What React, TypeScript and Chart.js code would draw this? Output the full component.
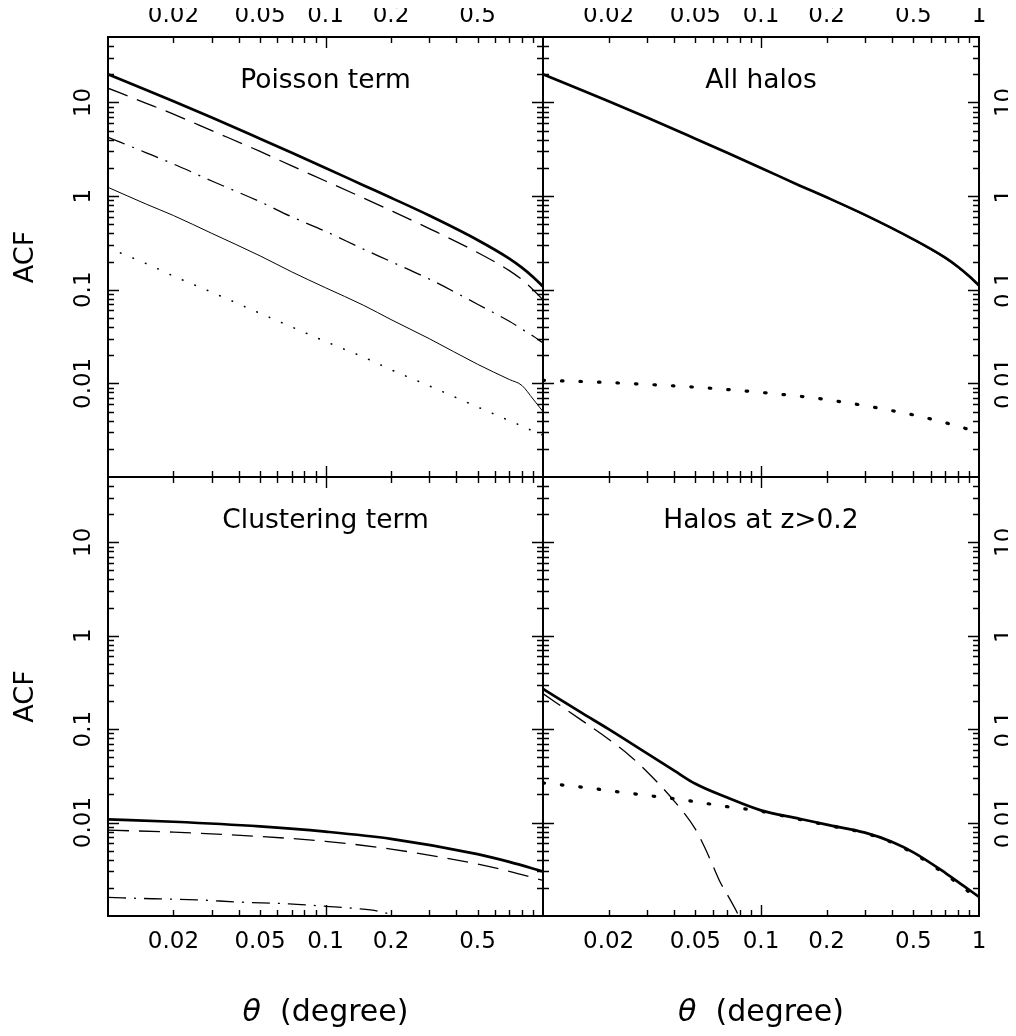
import React, { useEffect, useRef } from "react";
import { Chart, registerables } from "chart.js";
Chart.register(...registerables);

// ---------------- data ----------------
const thetaPoisson = [0.01, 0.015, 0.02, 0.03, 0.05, 0.07, 0.1, 0.15, 0.2, 0.3, 0.5, 0.7, 0.8, 0.9, 1];
const poissonTotal = [20, 13.6, 10.3, 6.9, 4.1, 2.9, 2.0, 1.3, 0.96, 0.62, 0.34, 0.215, 0.172, 0.137, 0.108];
const poissonDashed = [14.2, 9.8, 7.5, 5.0, 3.0, 2.1, 1.45, 0.95, 0.7, 0.45, 0.25, 0.16, 0.128, 0.1, 0.078];
const poissonDashDot = [4.25, 2.9, 2.2, 1.45, 0.87, 0.6, 0.42, 0.27, 0.2, 0.13, 0.07, 0.046, 0.038, 0.032, 0.027];
const poissonThin = [1.24, 0.82, 0.62, 0.4, 0.23, 0.155, 0.105, 0.068, 0.048, 0.03, 0.016, 0.011, 0.0095, 0.0068, 0.005];
const poissonDotted = [0.28, 0.19, 0.14, 0.094, 0.056, 0.04, 0.028, 0.019, 0.014, 0.0094, 0.0056, 0.004, 0.0035, 0.0031, 0.0028];

const allHalosTotal = [20, 13.6, 10.3, 6.9, 4.1, 2.9, 2.0, 1.3, 0.97, 0.63, 0.345, 0.22, 0.176, 0.14, 0.111];

const thetaClust = [0.01, 0.02, 0.05, 0.1, 0.2, 0.5, 0.7, 1];
const clustTotal = [0.0108, 0.0102, 0.0091, 0.008, 0.0067, 0.0046, 0.0038, 0.003];
const clustDashed = [0.0083, 0.0079, 0.0071, 0.0063, 0.0052, 0.0036, 0.003, 0.0024];
const thetaClustDashDot = [0.01, 0.016, 0.0256, 0.04, 0.068, 0.1, 0.139, 0.177, 0.213, 0.25];
const clustDashDot = [0.00158, 0.00153, 0.00149, 0.00141, 0.00135, 0.00127, 0.0012, 0.00112, 0.001, 0.0009];

const thetaHigh = [0.01, 0.015, 0.02, 0.03, 0.04, 0.05, 0.07, 0.1, 0.15, 0.2, 0.3, 0.4, 0.5, 0.7, 0.85, 1];
const highTotal = [0.27, 0.15, 0.1, 0.055, 0.036, 0.026, 0.0185, 0.0135, 0.011, 0.0095, 0.0078, 0.0062, 0.0048, 0.0029, 0.0021, 0.0016];
const highDotted = [0.0265, 0.024, 0.022, 0.0195, 0.018, 0.0167, 0.0148, 0.0132, 0.0108, 0.0094, 0.0077, 0.0061, 0.0047, 0.0028, 0.002, 0.0015];
const thetaHighDashed = [0.01, 0.015, 0.02, 0.025, 0.03, 0.04, 0.05, 0.055, 0.06, 0.065, 0.07, 0.08, 0.09];
const highDashed = [0.24, 0.125, 0.078, 0.052, 0.035, 0.017, 0.0085, 0.0055, 0.0035, 0.0023, 0.0017, 0.00095, 0.0005];

const xTickLabels = ["0.02", "0.05", "0.1", "0.2", "0.5"];
const xTickLabelsRight = ["0.02", "0.05", "0.1", "0.2", "0.5", "1"];
const yTickLabels = ["10", "1", "0.1", "0.01"];
const xMajor = [0.1];
const xMinor = [0.02, 0.03, 0.04, 0.05, 0.06, 0.07, 0.08, 0.09, 0.2, 0.3, 0.4, 0.5, 0.6, 0.7, 0.8, 0.9];
const yMajor = [0.01, 0.1, 1, 10];
const yMinor = [
  0.002, 0.003, 0.004, 0.005, 0.006, 0.007, 0.008, 0.009,
  0.02, 0.03, 0.04, 0.05, 0.06, 0.07, 0.08, 0.09,
  0.2, 0.3, 0.4, 0.5, 0.6, 0.7, 0.8, 0.9,
  2, 3, 4, 5, 6, 7, 8, 9, 20, 30, 40,
];

// ---------------- layout ----------------
const W = 1000;
const H = 1020;
const L = 100, M = 535, R = 971, T = 29, MID = 469, B = 908;
const FONT = '"DejaVu Sans", "Liberation Sans", sans-serif';

const pts = (xs: number[], ys: number[]) => xs.map((x, i) => ({ x, y: ys[i] }));

const thick = { borderWidth: 2.7 };
const thin = { borderWidth: 1 };
const dashed = { borderWidth: 1.3, borderDash: [21, 10] };
const dashDot = { borderWidth: 1.3, borderDash: [18, 8, 2, 8] };
const dotsSmall = { borderWidth: 1.6, borderDash: [0.5, 13], borderCapStyle: "round" };
const dotsBig = { borderWidth: 3.2, borderDash: [1.5, 17], borderCapStyle: "round" };

type Spec = {
  key: string;
  box: [number, number, number, number];
  title: string;
  xSide: "top" | "bottom";
  ySide: "left" | "right";
  xLabels: string[];
  datasets: any[];
  acf?: boolean;
  theta?: boolean;
};

const specs: Spec[] = [
  {
    key: "tl",
    box: [L, T, M, MID],
    title: "Poisson term",
    xSide: "top",
    ySide: "left",
    xLabels: xTickLabels,
    acf: true,
    datasets: [
      { data: pts(thetaPoisson, poissonTotal), ...thick },
      { data: pts(thetaPoisson, poissonDashed), ...dashed },
      { data: pts(thetaPoisson, poissonDashDot), ...dashDot },
      { data: pts(thetaPoisson, poissonThin), ...thin },
      { data: pts(thetaPoisson, poissonDotted), ...dotsSmall },
    ],
  },
  {
    key: "tr",
    box: [M, T, R, MID],
    title: "All halos",
    xSide: "top",
    ySide: "right",
    xLabels: xTickLabelsRight,
    datasets: [
      { data: pts(thetaPoisson, allHalosTotal), ...thick },
      { data: pts(thetaPoisson, poissonTotal), ...thin },
      { data: pts(thetaClust, clustTotal), ...dotsBig },
    ],
  },
  {
    key: "bl",
    box: [L, MID, M, B],
    title: "Clustering term",
    xSide: "bottom",
    ySide: "left",
    xLabels: xTickLabels,
    acf: true,
    theta: true,
    datasets: [
      { data: pts(thetaClust, clustTotal), ...thick },
      { data: pts(thetaClust, clustDashed), ...dashed },
      { data: pts(thetaClustDashDot, clustDashDot), ...dashDot },
    ],
  },
  {
    key: "br",
    box: [M, MID, R, B],
    title: "Halos at z>0.2",
    xSide: "bottom",
    ySide: "right",
    xLabels: xTickLabelsRight,
    theta: true,
    datasets: [
      { data: pts(thetaHigh, highTotal), ...thick },
      { data: pts(thetaHigh, highTotal), ...thin },
      { data: pts(thetaHighDashed, highDashed), ...dashed },
      { data: pts(thetaHigh, highDotted), ...dotsBig },
    ],
  },
];

function framePlugin(spec: Spec) {
  return {
    id: "frame_" + spec.key,
    afterDatasetsDraw(chart: any) {
      const { ctx, chartArea: a, scales } = chart;
      const xs = scales.x;
      const ys = scales.y;
      ctx.save();
      ctx.strokeStyle = "#000";
      ctx.fillStyle = "#000";
      ctx.lineWidth = 1.4;
      ctx.beginPath();
      const xt = (vals: number[], len: number) => {
        for (const v of vals) {
          const p = Math.round(xs.getPixelForValue(v)) + 0.5;
          ctx.moveTo(p, a.top);
          ctx.lineTo(p, a.top + len);
          ctx.moveTo(p, a.bottom);
          ctx.lineTo(p, a.bottom - len);
        }
      };
      const yt = (vals: number[], len: number) => {
        for (const v of vals) {
          const p = Math.round(ys.getPixelForValue(v)) + 0.5;
          ctx.moveTo(a.left, p);
          ctx.lineTo(a.left + len, p);
          ctx.moveTo(a.right, p);
          ctx.lineTo(a.right - len, p);
        }
      };
      xt(xMinor, 6);
      xt(xMajor, 11);
      yt(yMinor, 6);
      yt(yMajor, 11);
      ctx.stroke();
      ctx.lineWidth = 2;
      ctx.strokeRect(a.left, a.top, a.right - a.left, a.bottom - a.top);

      // x tick labels
      ctx.font = "23px " + FONT;
      ctx.textAlign = "center";
      ctx.textBaseline = "alphabetic";
      for (const lab of spec.xLabels) {
        const p = xs.getPixelForValue(parseFloat(lab));
        const yy = spec.xSide === "top" ? a.top - 15 : a.bottom + 32;
        ctx.fillText(lab, p, yy);
      }
      // y tick labels (rotated)
      for (const lab of yTickLabels) {
        const p = ys.getPixelForValue(parseFloat(lab));
        const xx = spec.ySide === "left" ? a.left - 18 : a.right + 32;
        ctx.save();
        ctx.translate(xx, p);
        ctx.rotate(-Math.PI / 2);
        ctx.fillText(lab, 0, 0);
        ctx.restore();
      }
      // panel title
      ctx.font = "26.5px " + FONT;
      ctx.fillText(spec.title, (a.left + a.right) / 2, a.top + 51);

      // axis titles
      if (spec.acf) {
        ctx.save();
        ctx.font = "27px " + FONT;
        ctx.translate(25, (a.top + a.bottom) / 2);
        ctx.rotate(-Math.PI / 2);
        ctx.fillText("ACF", 0, 0);
        ctx.restore();
      }
      if (spec.theta) {
        const cx = (a.left + a.right) / 2;
        const yy = 1013;
        ctx.font = "italic 30px " + FONT;
        const w1 = ctx.measureText("θ").width;
        ctx.font = "30px " + FONT;
        const rest = "  (degree)";
        const w2 = ctx.measureText(rest).width;
        const x0 = cx - (w1 + w2) / 2;
        ctx.textAlign = "left";
        ctx.font = "italic 30px " + FONT;
        ctx.fillText("θ", x0, yy);
        ctx.font = "30px " + FONT;
        ctx.fillText(rest, x0 + w1, yy);
      }
      ctx.restore();
    },
  };
}

function Panel({ spec }: { spec: Spec }) {
  const ref = useRef<HTMLCanvasElement | null>(null);
  useEffect(() => {
    if (!ref.current) return;
    const [bl, bt, br, bb] = spec.box;
    const chart = new Chart(ref.current, {
      type: "line",
      data: {
        datasets: spec.datasets.map((d) => ({
          borderColor: "#000",
          backgroundColor: "#000",
          fill: false,
          pointRadius: 0,
          cubicInterpolationMode: "monotone",
          ...d,
        })),
      },
      options: {
        responsive: false,
        animation: false,
        events: [],
        layout: { padding: { left: bl, top: bt, right: W - br, bottom: H - bb } },
        plugins: { legend: { display: false }, tooltip: { enabled: false }, title: { display: false } },
        scales: {
          x: { type: "logarithmic", min: 0.01, max: 1, display: false },
          y: { type: "logarithmic", min: 0.001, max: 50, display: false },
        },
      },
      plugins: [framePlugin(spec)],
    } as any);
    return () => chart.destroy();
  }, [spec]);
  return (
    <canvas
      ref={ref}
      width={W}
      height={H}
      style={{ position: "absolute", left: 0, top: 0, width: W, height: H }}
    />
  );
}

export default function App() {
  return (
    <div style={{ position: "relative", width: W, height: H, background: "#fff" }}>
      {specs.map((s) => (
        <Panel key={s.key} spec={s} />
      ))}
    </div>
  );
}
